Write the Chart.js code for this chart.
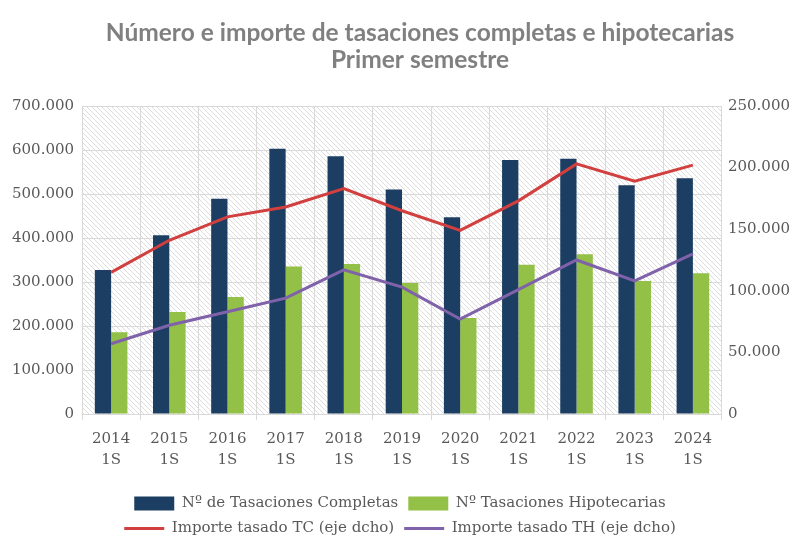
<!DOCTYPE html>
<html>
<head>
<meta charset="utf-8">
<script src="https://cdn.jsdelivr.net/npm/chart.js@4.4.1/dist/chart.umd.min.js"></script>
<style>
  html, body { margin: 0; padding: 0; background: #fff; }
  #wrap { width: 800px; height: 543px; position: relative; }
</style>
</head>
<body>
<div id="wrap"><canvas id="chart"></canvas></div>
<script>
// ─── Data ───────────────────────────────────────────────────────────────────
const years = ['2014', '2015', '2016', '2017', '2018', '2019', '2020', '2021', '2022', '2023', '2024'];
const completas = [327000, 406000, 489000, 603000, 586000, 510000, 447000, 577000, 580000, 520000, 536000];
const hipotecarias = [186000, 232000, 266000, 335000, 341000, 298000, 218000, 339000, 363000, 302000, 320000];
const importeTC = [115000, 141000, 160000, 168000, 183000, 165000, 149000, 173000, 203000, 189000, 202000];
const importeTH = [57000, 72000, 83000, 94000, 117000, 103000, 77000, 101000, 125000, 108000, 130000];
const leftTicks = [0, 100000, 200000, 300000, 400000, 500000, 600000, 700000];
const rightTicks = [0, 50000, 100000, 150000, 200000, 250000];

const titleLines = ['Número e importe de tasaciones completas e hipotecarias', 'Primer semestre'];

const labelColor = '#595959';
const gridColor = '#d9d9d9';
const serif = "'DejaVu Serif', serif";

const fmt = v => String(v).replace(/\B(?=(\d{3})+(?!\d))/g, '.');

// ─── Plot background hatch + title ──────────────────────────────────────────
function hatchPattern(ctx) {
  const c = document.createElement('canvas');
  c.width = 5; c.height = 5;
  const p = c.getContext('2d');
  p.strokeStyle = '#d4d4d4';
  p.lineWidth = 0.8;
  p.beginPath();
  p.moveTo(-1, -1); p.lineTo(6, 6);
  p.moveTo(-1, 4); p.lineTo(1, 6);
  p.moveTo(4, -1); p.lineTo(6, 1);
  p.stroke();
  return ctx.createPattern(c, 'repeat');
}

const decor = {
  id: 'decor',
  beforeDraw(chart) {
    const { ctx, chartArea: a } = chart;
    ctx.save();
    ctx.fillStyle = hatchPattern(ctx);
    ctx.fillRect(a.left, a.top, a.right - a.left, a.bottom - a.top);
    ctx.restore();
  },
  afterDraw(chart) {
    const { ctx } = chart;
    ctx.save();
    ctx.fillStyle = '#808080';
    ctx.font = "bold 24.5px Lato, 'Open Sans', sans-serif";
    ctx.textAlign = 'center';
    ctx.textBaseline = 'middle';
    ctx.fillText(titleLines[0], 420, 33);
    ctx.fillText(titleLines[1], 420, 60);
    ctx.restore();
  },
};

// ─── Chart ──────────────────────────────────────────────────────────────────
new Chart(document.getElementById('chart'), {
  type: 'bar',
  data: {
    labels: years.map(y => [y, '1S']),
    datasets: [
      {
        label: 'Nº de Tasaciones Completas',
        data: completas,
        backgroundColor: '#1c3e62',
        borderWidth: 0,
        yAxisID: 'y',
        order: 1,
        pointStyle: 'rect',
        categoryPercentage: 0.56,
        barPercentage: 1.0,
      },
      {
        label: 'Nº Tasaciones Hipotecarias',
        data: hipotecarias,
        backgroundColor: '#93c047',
        borderWidth: 0,
        yAxisID: 'y',
        order: 1,
        pointStyle: 'rect',
        categoryPercentage: 0.56,
        barPercentage: 1.0,
      },
      {
        type: 'line',
        label: 'Importe tasado TC (eje dcho)',
        data: importeTC,
        borderColor: '#d13f3f',
        backgroundColor: '#d13f3f',
        borderWidth: 3,
        pointRadius: 0,
        pointStyle: 'line',
        tension: 0,
        yAxisID: 'y1',
        order: 0,
      },
      {
        type: 'line',
        label: 'Importe tasado TH (eje dcho)',
        data: importeTH,
        borderColor: '#7f62aa',
        backgroundColor: '#7f62aa',
        borderWidth: 3,
        pointRadius: 0,
        pointStyle: 'line',
        tension: 0,
        yAxisID: 'y1',
        order: 0,
      },
    ],
  },
  options: {
    responsive: true,
    maintainAspectRatio: false,
    animation: false,
    layout: { padding: { top: 106, left: 4, right: 4, bottom: -3 } },
    plugins: {
      title: { display: false },
      tooltip: { enabled: false },
      legend: {
        position: 'bottom',
        labels: {
          usePointStyle: true,
          pointStyleWidth: 40,
          boxHeight: 14,
          padding: 10,
          color: labelColor,
          font: { family: serif, size: 15 },
          sort: (a, b) => a.datasetIndex - b.datasetIndex,
        },
      },
    },
    scales: {
      x: {
        grid: { display: true, color: gridColor, offset: true, tickLength: 6 },
        border: { color: gridColor },
        ticks: { color: labelColor, font: { family: serif, size: 15, lineHeight: 1.4 }, maxRotation: 0, padding: 9 },
        afterFit: s => { s.height = 72; },
      },
      y: {
        position: 'left',
        min: 0,
        max: 700000,
        afterBuildTicks: s => { s.ticks = leftTicks.map(v => ({ value: v })); },
        grid: { color: gridColor, drawTicks: false },
        border: { display: false },
        ticks: { color: labelColor, font: { family: serif, size: 15 }, padding: 8, callback: v => fmt(v) },
      },
      y1: {
        position: 'right',
        min: 0,
        max: 250000,
        afterBuildTicks: s => { s.ticks = rightTicks.map(v => ({ value: v })); },
        grid: { display: false, drawTicks: false },
        border: { display: false },
        ticks: { color: labelColor, font: { family: serif, size: 15 }, padding: 6, callback: v => fmt(v) },
      },
    },
  },
  plugins: [decor],
});
</script>
</body>
</html>
